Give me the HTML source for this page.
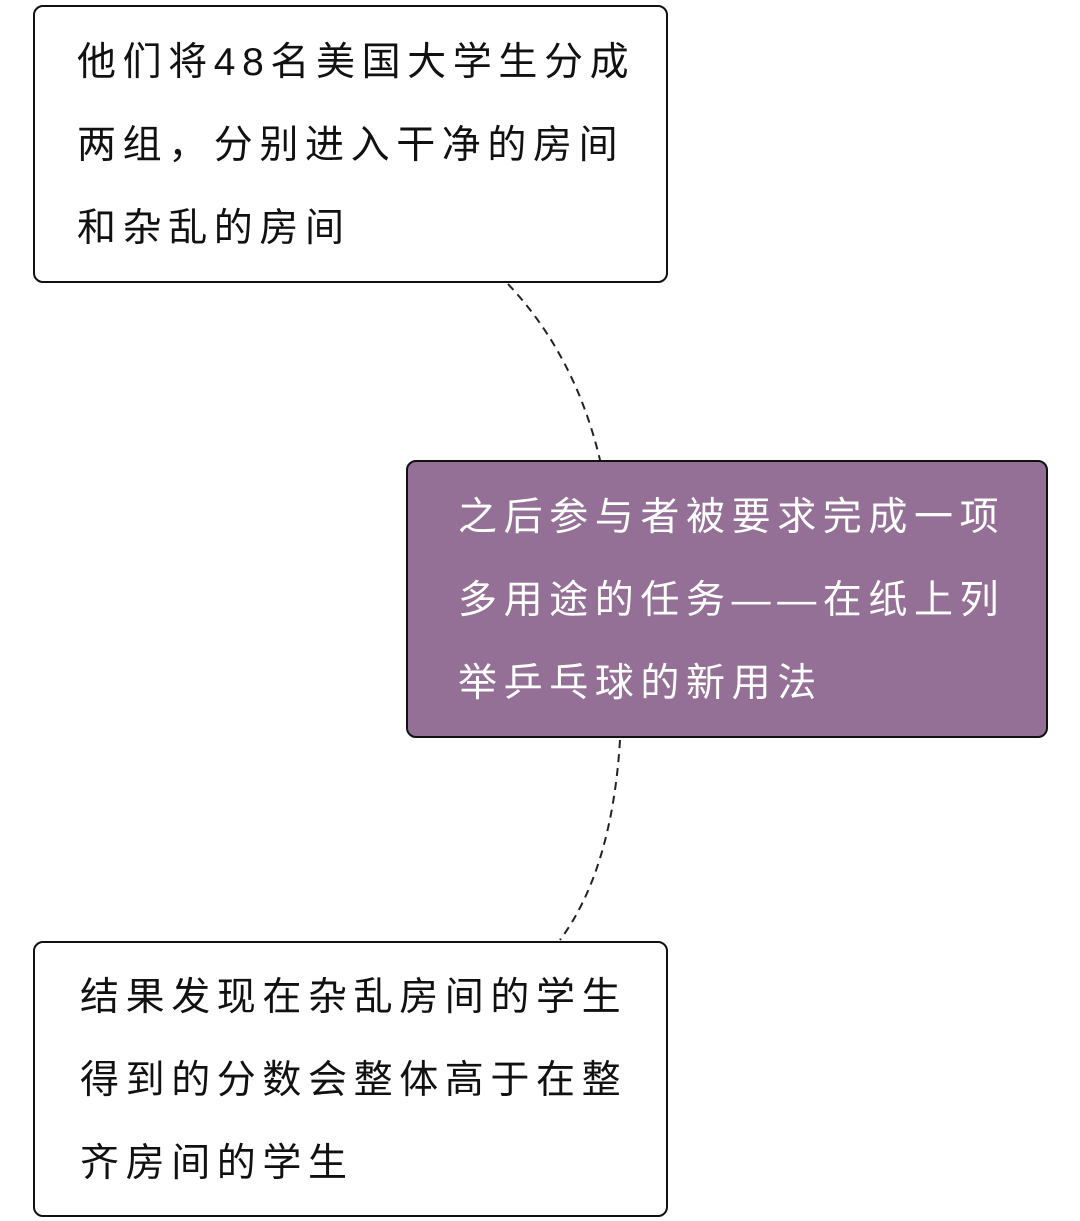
<!DOCTYPE html>
<html><head><meta charset="utf-8"><style>
html,body{margin:0;padding:0;background:#fff;width:1080px;height:1221px;overflow:hidden;position:relative}
.box{position:absolute;box-sizing:border-box;border:2px solid #111;border-radius:10px}
.t{position:absolute;font-family:"Liberation Sans","Noto Sans CJK SC",sans-serif;font-size:39px;line-height:83px;letter-spacing:6.6px;white-space:nowrap;color:#111}
</style></head><body>
<svg width="1080" height="1221" style="position:absolute;left:0;top:0">
<path d="M508 284 Q575 355 600 460" fill="none" stroke="#222" stroke-width="2" stroke-dasharray="8,6"/>
<path d="M620 740 Q612 870 560 940" fill="none" stroke="#222" stroke-width="2" stroke-dasharray="8,6"/>
</svg>
<div class="box" style="left:33px;top:5px;width:635px;height:278px;background:#fff"></div>
<div class="t" style="left:77px;top:21px">他们将48名美国大学生分成<br>两组，分别进入干净的房间<br>和杂乱的房间</div>
<div class="box" style="left:406px;top:460px;width:642px;height:278px;background:#957096"></div>
<div class="t" style="left:458px;top:476px;color:#fff">之后参与者被要求完成一项<br>多用途的任务——在纸上列<br>举乒乓球的新用法</div>
<div class="box" style="left:33px;top:941px;width:635px;height:276px;background:#fff"></div>
<div class="t" style="left:80px;top:956px">结果发现在杂乱房间的学生<br>得到的分数会整体高于在整<br>齐房间的学生</div>
</body></html>
